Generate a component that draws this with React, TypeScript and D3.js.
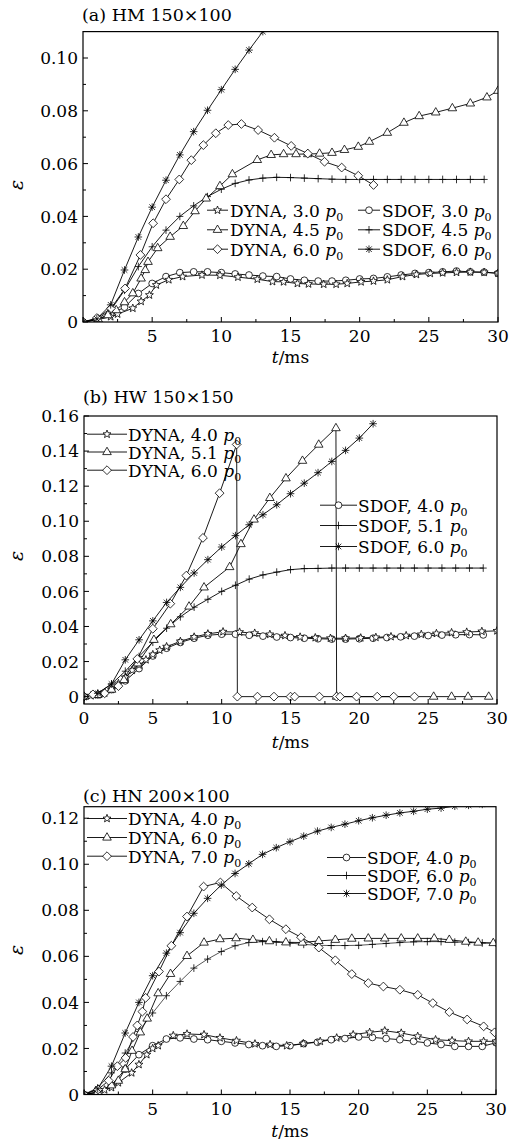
import React from 'react';
import * as d3 from 'd3';

// ---------- (a) HM 150x100 ----------
const aDyna30T = [0, 1, 2, 2.5, 3.6, 4.2, 4.8, 5.3, 6.2, 7.2, 8.6, 9.9, 11.2, 12.6, 13.7, 14.5, 15.5, 16.3, 17.4, 18.3, 19.1, 20.1, 21.0, 22.0, 23.1, 24.1, 25.1, 26.0, 27.0, 28.0, 29.0, 30.0];
const aDyna30E = [0, 0.0008, 0.002, 0.003, 0.0052, 0.0078, 0.0102, 0.014, 0.016, 0.0172, 0.0178, 0.0177, 0.017, 0.0162, 0.0153, 0.0152, 0.0146, 0.0144, 0.0143, 0.0143, 0.0146, 0.0152, 0.0155, 0.016, 0.0172, 0.018, 0.0184, 0.0186, 0.0188, 0.0189, 0.0188, 0.0185];
const aDyna45T = [0, 1.1, 1.8, 2.4, 3.0, 3.6, 4.2, 4.5, 4.7, 5.4, 6.3, 7.25, 8.1, 8.9, 9.9, 10.8, 12.6, 13.6, 14.5, 15.4, 16.25, 17.1, 18.0, 18.9, 19.9, 20.7, 22.0, 23.2, 24.3, 25.5, 26.7, 28.0, 29.2, 30];
const aDyna45E = [0, 0.001, 0.0026, 0.0045, 0.0075, 0.0109, 0.0165, 0.0197, 0.0228, 0.028, 0.0323, 0.0364, 0.042, 0.0468, 0.0515, 0.056, 0.0614, 0.0633, 0.0636, 0.0636, 0.0636, 0.0638, 0.0641, 0.0652, 0.0664, 0.0683, 0.0717, 0.0755, 0.078, 0.0794, 0.081, 0.0828, 0.0851, 0.0876];
const aDyna60T = [0, 1, 2.03, 3.04, 4.15, 5.07, 6.0, 6.96, 7.83, 8.7, 9.6, 10.5, 11.45, 12.66, 13.84, 15.05, 16.25, 17.46, 18.7, 19.9, 21.0];
const aDyna60E = [0, 0.0015, 0.0052, 0.0127, 0.0254, 0.0374, 0.0465, 0.054, 0.0613, 0.067, 0.0715, 0.0746, 0.075, 0.0727, 0.0698, 0.0667, 0.0638, 0.0607, 0.0585, 0.0554, 0.0519];
const aSdof30T = [0, 1, 2, 3, 4, 5, 6, 7, 8, 9, 10, 11, 12, 13, 14, 15, 16, 17, 18, 19, 20, 21, 22, 23, 24, 25, 26, 27, 28, 29, 30];
const aSdof30E = [0, 0.001, 0.003, 0.0056, 0.0108, 0.0146, 0.0172, 0.0187, 0.019, 0.019, 0.0187, 0.0182, 0.0178, 0.0174, 0.0172, 0.0163, 0.0158, 0.0155, 0.0155, 0.0158, 0.0163, 0.0165, 0.0171, 0.0178, 0.0184, 0.0187, 0.019, 0.0193, 0.019, 0.0189, 0.0184];
const aSdof45T = [0, 1, 2, 3, 4, 5, 6, 7, 8, 9, 10, 11, 12, 13, 14, 15, 16, 17, 18, 19, 20, 21, 22, 23, 24, 25, 26, 27, 28, 29];
const aSdof45E = [0, 0.001, 0.0045, 0.012, 0.021, 0.0285, 0.0348, 0.04, 0.044, 0.0475, 0.0503, 0.0525, 0.0538, 0.0545, 0.0548, 0.0547, 0.0545, 0.0543, 0.0541, 0.054, 0.054, 0.054, 0.054, 0.054, 0.054, 0.054, 0.054, 0.054, 0.054, 0.054];
const aSdof60T = [0, 1, 2, 3, 4, 5, 6, 7, 8, 9, 10, 11, 12, 13, 14];
const aSdof60E = [0, 0.0012, 0.0065, 0.0197, 0.0322, 0.0435, 0.0537, 0.0633, 0.0721, 0.0802, 0.088, 0.0957, 0.103, 0.11, 0.117];

// ---------- (b) HW 150x150 ----------
const bDyna40T = [0, 0.5, 1, 1.5, 2, 2.5, 3, 3.5, 4, 4.5, 5, 5.5, 6, 7, 8, 9, 10.1, 11.3, 12.4, 13.5, 14.6, 15.7, 16.8, 17.9, 19, 20.1, 21.2, 22.3, 23.4, 24.5, 25.6, 26.7, 27.8, 28.9, 30];
const bDyna40E = [0, 0.0005, 0.001, 0.002, 0.004, 0.0075, 0.011, 0.015, 0.018, 0.021, 0.024, 0.0265, 0.0285, 0.0315, 0.034, 0.0358, 0.037, 0.0368, 0.0362, 0.0355, 0.0348, 0.034, 0.0336, 0.0333, 0.0333, 0.0335, 0.0338, 0.0342, 0.0348, 0.0355, 0.036, 0.0365, 0.0368, 0.0372, 0.0375];
const bDyna51T = [0, 1, 2, 2.9, 3.9, 5.08, 6.3, 7.63, 8.72, 10.58, 11.4, 12.35, 13.5, 14.67, 15.87, 17.05, 18.3, 18.35, 25.4, 26.7, 27.9, 29.4];
const bDyna51E = [0, 0.001, 0.004, 0.0095, 0.019, 0.0324, 0.0413, 0.0514, 0.0623, 0.0739, 0.087, 0.101, 0.1133, 0.1245, 0.1345, 0.1437, 0.1531, 0, 0, 0, 0, 0];
const bDyna60T = [0, 0.65, 1.5, 2.5, 3.87, 5.0, 6.27, 7.43, 8.64, 9.85, 11.09, 11.14, 12.6, 13.8, 15.0, 15.3, 17.1, 18.35, 18.6, 19.8, 21.3, 22.5, 24.0];
const bDyna60E = [0, 0.0013, 0.0019, 0.006, 0.0215, 0.0387, 0.053, 0.069, 0.0905, 0.116, 0.1438, 0, 0, 0, 0, 0, 0, 0, 0, 0, 0, 0, 0];
const bSdof40T = [0, 1, 2, 3, 4, 5, 6, 7, 8, 9, 10, 11, 12, 13, 14, 15, 16, 17, 18, 19, 20, 21, 22, 23, 24, 25, 26, 27, 28, 29];
const bSdof40E = [0, 0.001, 0.004, 0.009, 0.016, 0.0232, 0.0276, 0.0309, 0.0333, 0.035, 0.0356, 0.0356, 0.035, 0.0345, 0.034, 0.0337, 0.0333, 0.033, 0.0328, 0.0328, 0.033, 0.0333, 0.0337, 0.0341, 0.0345, 0.0348, 0.0351, 0.0353, 0.0354, 0.0352];
const bSdof51T = [0, 1, 2, 3, 4, 5, 6, 7, 8, 9, 10, 11, 12, 13, 14, 15, 16, 17, 18, 19, 20, 21, 22, 23, 24, 25, 26, 27, 28, 29];
const bSdof51E = [0, 0.0019, 0.0072, 0.0145, 0.0229, 0.031, 0.039, 0.0455, 0.051, 0.0555, 0.06, 0.0635, 0.067, 0.0694, 0.071, 0.0724, 0.073, 0.0731, 0.0733, 0.0733, 0.0733, 0.0733, 0.0733, 0.0733, 0.0733, 0.0733, 0.0733, 0.0733, 0.0733, 0.0733];
const bSdof60T = [0, 1, 2, 3, 4, 5, 6, 7, 8, 9, 10, 11, 12, 13, 14, 15, 16, 17, 18, 19, 20, 21];
const bSdof60E = [0, 0.0019, 0.0072, 0.021, 0.0324, 0.0432, 0.0537, 0.0623, 0.0705, 0.0781, 0.0853, 0.0918, 0.098, 0.1037, 0.1094, 0.1157, 0.1217, 0.1277, 0.1341, 0.1404, 0.1474, 0.1556];

// ---------- (c) HN 200x100 ----------
const cDyna40T = [0, 1, 1.5, 2, 2.5, 3.47, 4.0, 4.57, 5.0, 5.4, 6.5, 7.5, 8.74, 9.9, 11.1, 12.45, 13.55, 14.76, 15.97, 17.2, 18.4, 19.6, 20.8, 21.9, 23.1, 24.3, 25.6, 26.8, 28.0, 29.1, 30];
const cDyna40E = [0, 0.001, 0.002, 0.003, 0.0051, 0.0094, 0.013, 0.0173, 0.02, 0.0212, 0.0256, 0.0263, 0.026, 0.0246, 0.0234, 0.022, 0.0217, 0.0212, 0.0221, 0.0231, 0.0246, 0.026, 0.027, 0.0277, 0.0267, 0.0253, 0.0238, 0.0234, 0.0231, 0.0231, 0.0231];
const cDyna60T = [0, 1, 2, 2.5, 3.0, 3.5, 4.1, 4.6, 5.4, 6.3, 7.5, 8.74, 9.9, 11.07, 12.3, 13.5, 14.7, 15.9, 17.1, 18.3, 19.5, 20.7, 21.9, 23.1, 24.3, 25.5, 26.6, 27.8, 28.7, 29.8];
const cDyna60E = [0, 0.001, 0.004, 0.006, 0.011, 0.019, 0.027, 0.033, 0.044, 0.0524, 0.0602, 0.066, 0.0675, 0.0679, 0.0672, 0.0666, 0.0661, 0.066, 0.0667, 0.0672, 0.0677, 0.0678, 0.0678, 0.0678, 0.0678, 0.0678, 0.0672, 0.0664, 0.066, 0.0658];
const cDyna70T = [0, 1.02, 1.8, 2.43, 3.03, 3.57, 3.88, 4.25, 4.49, 5.46, 6.36, 7.5, 8.71, 9.93, 11.09, 12.25, 13.5, 14.7, 15.8, 17.1, 18.3, 19.5, 20.7, 21.8, 23.0, 24.3, 25.4, 26.6, 27.9, 29.1, 29.9];
const cDyna70E = [0, 0.0022, 0.006, 0.0123, 0.0159, 0.025, 0.03, 0.036, 0.042, 0.0534, 0.0646, 0.0773, 0.0903, 0.0921, 0.0862, 0.0812, 0.0761, 0.0718, 0.0683, 0.0638, 0.0583, 0.0523, 0.0484, 0.0469, 0.0455, 0.0433, 0.0397, 0.0358, 0.0326, 0.0296, 0.027];
const cSdof40T = [0, 1, 2, 3, 4, 5, 6, 7, 8, 9, 10, 11, 12, 13, 14, 15, 16, 17, 18, 19, 20, 21, 22, 23, 24, 25, 26, 27, 28, 29, 30];
const cSdof40E = [0, 0.001, 0.004, 0.011, 0.0173, 0.0212, 0.0241, 0.0246, 0.0241, 0.0238, 0.0231, 0.0224, 0.0217, 0.0212, 0.0209, 0.0212, 0.0221, 0.0227, 0.0238, 0.0243, 0.025, 0.0248, 0.0243, 0.0238, 0.0231, 0.0224, 0.0217, 0.0209, 0.0209, 0.0209, 0.0225];
const cSdof60T = [0, 1, 2, 3, 4, 5, 6, 7, 8, 9, 10, 11, 12, 13, 14, 15, 16, 17, 18, 19, 20, 21, 22, 23, 24, 25, 26, 27, 28, 29, 30];
const cSdof60E = [0, 0.0029, 0.0094, 0.018, 0.0274, 0.0354, 0.0429, 0.0491, 0.0549, 0.0588, 0.0621, 0.0646, 0.066, 0.0664, 0.0662, 0.0658, 0.0652, 0.0648, 0.0647, 0.0647, 0.0648, 0.0652, 0.0656, 0.066, 0.0663, 0.0664, 0.0664, 0.0662, 0.066, 0.0658, 0.0657];
const cSdof70T = [0, 1, 2, 3, 4, 5, 6, 7, 8, 9, 10, 11, 12, 13, 14, 15, 16, 17, 18, 19, 20, 21, 22, 23, 24, 25, 26, 27, 28, 29, 30];
const cSdof70E = [0, 0.0025, 0.0123, 0.0267, 0.04, 0.0516, 0.0614, 0.0703, 0.0787, 0.0852, 0.091, 0.096, 0.1002, 0.1043, 0.1072, 0.1098, 0.1122, 0.1144, 0.116, 0.1174, 0.1189, 0.1202, 0.1213, 0.1223, 0.123, 0.1239, 0.1244, 0.1252, 0.1256, 0.126, 0.1264];

// ticks
const xMajor = [0, 5, 10, 15, 20, 25, 30];
const xMinor = [2.5, 7.5, 12.5, 17.5, 22.5, 27.5];
const aYTicks = [0, 0.02, 0.04, 0.06, 0.08, 0.1];
const aYMinor = [0.01, 0.03, 0.05, 0.07, 0.09];
const bYTicks = [0, 0.02, 0.04, 0.06, 0.08, 0.1, 0.12, 0.14, 0.16];
const bYMinor = [0.01, 0.03, 0.05, 0.07, 0.09, 0.11, 0.13, 0.15];
const cYTicks = [0, 0.02, 0.04, 0.06, 0.08, 0.1, 0.12];
const cYMinor = [0.01, 0.03, 0.05, 0.07, 0.09, 0.11];

const FONT = "'DejaVu Serif', serif";

function starPath(ro: number, ri: number) {
  const pts: string[] = [];
  for (let i = 0; i < 10; i++) {
    const r = i % 2 === 0 ? ro : ri;
    const a = -Math.PI / 2 + (i * Math.PI) / 5;
    pts.push(`${(r * Math.cos(a)).toFixed(2)},${(r * Math.sin(a)).toFixed(2)}`);
  }
  return 'M' + pts.join('L') + 'Z';
}

const MARKS: Record<string, string> = {
  star: starPath(4.2, 1.8),
  tri: 'M0,-4.8L4.3,2.6L-4.3,2.6Z',
  dia: 'M0,-4.4L4.4,0L0,4.4L-4.4,0Z',
  circ: d3.symbol(d3.symbolCircle, 36)() as string,
  plus: 'M-3.5,0H3.5M0,-3.8V3.8',
  ast: 'M-3.8,0H3.8M0,-3.8V3.8M-2.8,-2.8L2.8,2.8M-2.8,2.8L2.8,-2.8',
};

type Series = { t: number[]; e: number[]; mark: string; color?: string };
type LegendCol = { x0: number; x1: number; tx: number; base: number[]; items: { name: string; load: string; mark: string }[] };

type PanelProps = {
  id: string;
  title: string;
  titleY: number;
  left: number; right: number; top: number; bottom: number;
  yDomain: [number, number];
  yTicks: number[]; yMinor: number[];
  xLabels: number[];
  xLabelY: number;
  epsY: number;
  series: Series[];
  legend: LegendCol[];
};

function Marker({ m, x, y }: { m: string; x: number; y: number }) {
  const open = m !== 'plus' && m !== 'ast';
  return (
    <path d={MARKS[m]} transform={`translate(${x},${y})`} fill={open ? '#fff' : 'none'} stroke="#000" strokeWidth={0.8} />
  );
}

function Panel(p: PanelProps) {
  const x = d3.scaleLinear().domain([0, 30]).range([p.left, p.right]);
  const y = d3.scaleLinear().domain(p.yDomain).range([p.bottom, p.top]);
  const line = d3.line<[number, number]>().x(d => x(d[0])).y(d => y(d[1]));
  const fmt = (v: number) => (v === 0 ? '0' : v.toFixed(2));
  return (
    <g fontFamily={FONT}>
      <defs>
        <clipPath id={p.id}>
          <rect x={p.left} y={p.top} width={p.right - p.left} height={p.bottom - p.top} />
        </clipPath>
      </defs>
      <text x={p.left - 1} y={p.titleY} fontSize={17.5}>{p.title}</text>
      <g clipPath={`url(#${p.id})`}>
        {p.series.map((s, i) => (
          <path key={i} d={line(s.t.map((t, j) => [t, s.e[j]] as [number, number])) as string} fill="none" stroke={s.color || '#000'} strokeWidth={0.9} />
        ))}
        {p.series.map((s, i) => (
          <g key={i}>
            {s.t.map((t, j) => <Marker key={j} m={s.mark} x={x(t)} y={y(s.e[j])} />)}
          </g>
        ))}
      </g>
      {/* legend */}
      {p.legend.map((col, ci) => (
        <g key={ci}>
          {col.items.map((it, k) => (
            <g key={k}>
              <line x1={col.x0} x2={col.x1} y1={col.base[k] - 6.5} y2={col.base[k] - 6.5} stroke="#000" strokeWidth={0.9} />
              <Marker m={it.mark} x={(col.x0 + col.x1) / 2} y={col.base[k] - 6.5} />
              <text x={col.tx} y={col.base[k]} fontSize={17}>
                {it.name}, {it.load} <tspan fontStyle="italic">p</tspan>
                <tspan fontSize={11} dy={4}>0</tspan>
              </text>
            </g>
          ))}
        </g>
      ))}
      {/* frame */}
      <rect x={p.left} y={p.top} width={p.right - p.left} height={p.bottom - p.top} fill="none" stroke="#000" strokeWidth={1.2} />
      {xMajor.map(v => (
        <line key={'xm' + v} x1={x(v)} x2={x(v)} y1={p.bottom} y2={p.bottom - 5} stroke="#000" strokeWidth={1} />
      ))}
      {xMinor.map(v => (
        <line key={'xn' + v} x1={x(v)} x2={x(v)} y1={p.bottom} y2={p.bottom - 3} stroke="#000" strokeWidth={1} />
      ))}
      {p.xLabels.map(v => (
        <text key={'xl' + v} x={x(v)} y={p.bottom + 20} fontSize={17} textAnchor="middle">{v}</text>
      ))}
      {p.yTicks.map(v => (
        <g key={'ym' + v}>
          <line x1={p.left} x2={p.left + 5} y1={y(v)} y2={y(v)} stroke="#000" strokeWidth={1} />
          <text x={p.left - 5} y={y(v)} dy="0.36em" fontSize={17} textAnchor="end">{fmt(v)}</text>
        </g>
      ))}
      {p.yMinor.map(v => (
        <line key={'yn' + v} x1={p.left} x2={p.left + 3} y1={y(v)} y2={y(v)} stroke="#000" strokeWidth={1} />
      ))}
      <text x={(p.left + p.right) / 2} y={p.xLabelY} fontSize={17} textAnchor="middle">
        <tspan fontStyle="italic">t</tspan>/ms
      </text>
      <text transform={`translate(23,${p.epsY}) rotate(-90)`} fontSize={19} fontStyle="italic" textAnchor="middle">ε</text>
    </g>
  );
}

export default function App() {
  return (
    <div style={{ position: 'absolute', left: 0, top: 0 }}>
      <svg width={509} height={1143} style={{ display: 'block', background: '#fff' }}>
        <Panel
          id="clipA" title="(a) HM 150×100" titleY={21}
          left={83} right={498} top={31.6} bottom={322}
          yDomain={[0, 0.11]} yTicks={aYTicks} yMinor={aYMinor}
          xLabels={xMajor.slice(1)} xLabelY={363} epsY={185}
          series={[
            { t: aSdof30T, e: aSdof30E, mark: 'circ' },
            { t: aDyna30T, e: aDyna30E, mark: 'star' },
            { t: aSdof45T, e: aSdof45E, mark: 'plus' },
            { t: aDyna45T, e: aDyna45E, mark: 'tri' },
            { t: aDyna60T, e: aDyna60E, mark: 'dia' },
            { t: aSdof60T, e: aSdof60E, mark: 'ast' },
          ]}
          legend={[
            { x0: 207, x1: 228, tx: 230, base: [216.7, 236.3, 255.7], items: [
              { name: 'DYNA', load: '3.0', mark: 'star' },
              { name: 'DYNA', load: '4.5', mark: 'tri' },
              { name: 'DYNA', load: '6.0', mark: 'dia' },
            ] },
            { x0: 358, x1: 380, tx: 382, base: [216.7, 236.3, 255.7], items: [
              { name: 'SDOF', load: '3.0', mark: 'circ' },
              { name: 'SDOF', load: '4.5', mark: 'plus' },
              { name: 'SDOF', load: '6.0', mark: 'ast' },
            ] },
          ]}
        />
        <Panel
          id="clipB" title="(b) HW 150×150" titleY={403}
          left={84} right={497} top={416} bottom={704}
          yDomain={[-0.0042, 0.16]} yTicks={bYTicks} yMinor={bYMinor}
          xLabels={xMajor} xLabelY={748} epsY={556}
          series={[
            { t: bSdof40T, e: bSdof40E, mark: 'circ' },
            { t: bDyna40T, e: bDyna40E, mark: 'star' },
            { t: bSdof51T, e: bSdof51E, mark: 'plus' },
            { t: bDyna51T, e: bDyna51E, mark: 'tri' },
            { t: bDyna60T, e: bDyna60E, mark: 'dia' },
            { t: bSdof60T, e: bSdof60E, mark: 'ast' },
          ]}
          legend={[
            { x0: 87, x1: 127, tx: 128, base: [440.7, 458.5, 476.7], items: [
              { name: 'DYNA', load: '4.0', mark: 'star' },
              { name: 'DYNA', load: '5.1', mark: 'tri' },
              { name: 'DYNA', load: '6.0', mark: 'dia' },
            ] },
            { x0: 320, x1: 357, tx: 358, base: [511.7, 532, 553], items: [
              { name: 'SDOF', load: '4.0', mark: 'circ' },
              { name: 'SDOF', load: '5.1', mark: 'plus' },
              { name: 'SDOF', load: '6.0', mark: 'ast' },
            ] },
          ]}
        />
        <Panel
          id="clipC" title="(c) HN 200×100" titleY={802}
          left={84} right={496} top={806.7} bottom={1094.5}
          yDomain={[0, 0.125]} yTicks={cYTicks} yMinor={cYMinor}
          xLabels={xMajor.slice(1)} xLabelY={1137} epsY={950}
          series={[
            { t: cSdof40T, e: cSdof40E, mark: 'circ' },
            { t: cDyna40T, e: cDyna40E, mark: 'star' },
            { t: cSdof60T, e: cSdof60E, mark: 'plus', color: '#444' },
            { t: cDyna60T, e: cDyna60E, mark: 'tri' },
            { t: cDyna70T, e: cDyna70E, mark: 'dia' },
            { t: cSdof70T, e: cSdof70E, mark: 'ast' },
          ]}
          legend={[
            { x0: 87, x1: 127, tx: 128, base: [825, 844, 862.7], items: [
              { name: 'DYNA', load: '4.0', mark: 'star' },
              { name: 'DYNA', load: '6.0', mark: 'tri' },
              { name: 'DYNA', load: '7.0', mark: 'dia' },
            ] },
            { x0: 327, x1: 366, tx: 367, base: [864, 882, 900], items: [
              { name: 'SDOF', load: '4.0', mark: 'circ' },
              { name: 'SDOF', load: '6.0', mark: 'plus' },
              { name: 'SDOF', load: '7.0', mark: 'ast' },
            ] },
          ]}
        />
      </svg>
    </div>
  );
}
